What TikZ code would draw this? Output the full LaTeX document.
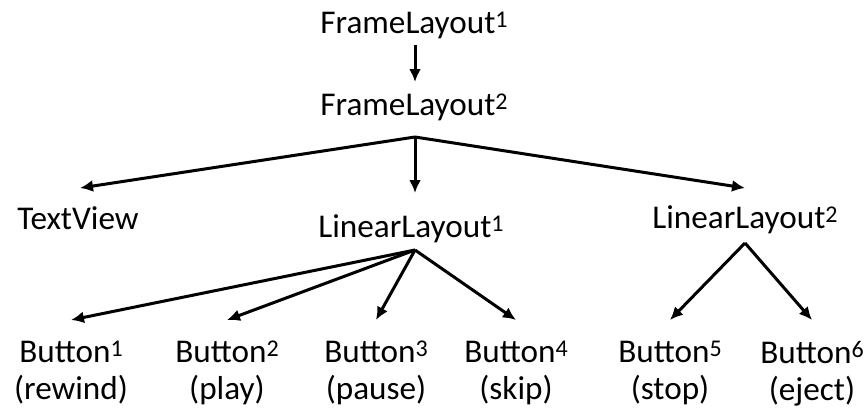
\documentclass[tikz,border=0pt]{standalone}
\usepackage{fontspec}
\setmainfont{Carlito}
\usetikzlibrary{arrows.meta,calc}
\newcommand\supr[1]{\raisebox{0.18em}{\fontsize{12}{12}\selectfont #1}}
\begin{document}
\begin{tikzpicture}[x=0.5pt, y=-0.5pt,
    lbl/.style={inner sep=0pt, anchor=base, font=\fontsize{16.6}{18.5}\selectfont},
    btn/.style={lbl, anchor=north, align=center},
    arr/.style={-{Latex[length=6.5pt,width=6pt]}, line width=1.5pt}]
  \useasboundingbox (0,0) rectangle (868,412);
  % layout tree
  \node[lbl] (fl1) at (414,33) {FrameLayout\supr{1}};
  \node[lbl] (fl2) at (414,115) {FrameLayout\supr{2}};
  \node[lbl] (tv) at (78,229) {TextView};
  \node[lbl] (ll1) at (411,237) {LinearLayout\supr{1}};
  \node[lbl] (ll2) at (745,228) {LinearLayout\supr{2}};
  \node[btn] (b1) at (71,341) {Button\supr{1}\\(rewind)};
  \node[btn] (b2) at (227,341) {Button\supr{2}\\(play)};
  \node[btn] (b3) at (376,341) {Button\supr{3}\\(pause)};
  \node[btn] (b4) at (516,341) {Button\supr{4}\\(skip)};
  \node[btn] (b5) at (670,341) {Button\supr{5}\\(stop)};
  \node[btn] (b6) at (812,341) {Button\supr{6}\\(eject)};
  % arrows
  \draw[arr] ($(fl1.base)+(1,12)$) -- ($(fl2.base)+(1,-33)$);
  \draw[arr] ($(fl2.base)+(1,22)$) -- ($(tv.base)+(2,-41)$);
  \draw[arr] ($(fl2.base)+(1,22)$) -- ($(ll1.base)+(4,-44)$);
  \draw[arr] ($(fl2.base)+(1,22)$) -- ($(ll2.base)+(0,-40)$);
  \foreach \b in {b1,b2,b3,b4}
    \draw[arr] ($(ll1.base)+(4,13)$) -- ($(\b.north)+(0,-21)$);
  \foreach \b in {b5,b6}
    \draw[arr] ($(ll2.base)+(0,15)$) -- ($(\b.north)+(0,-21)$);
\end{tikzpicture}
\end{document}
